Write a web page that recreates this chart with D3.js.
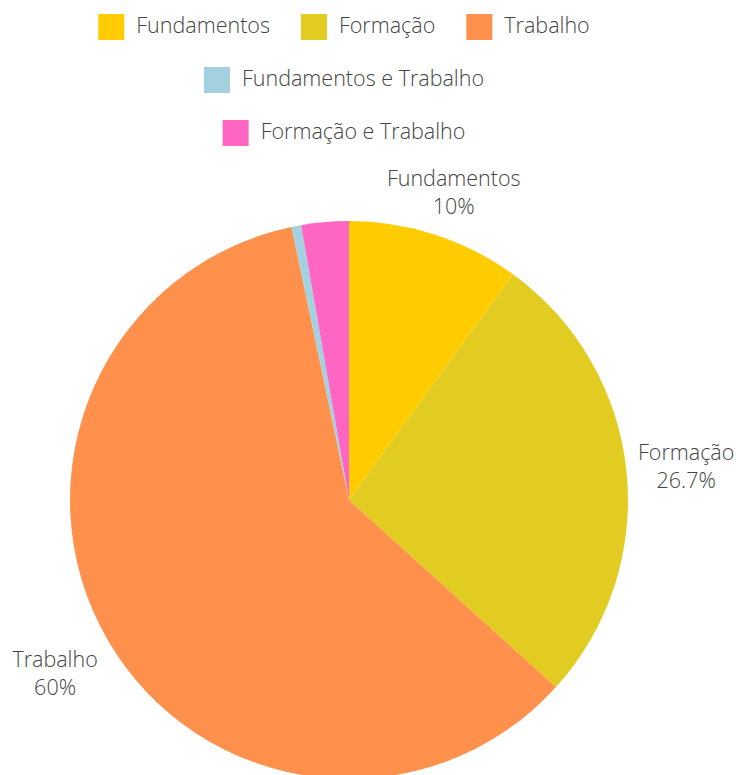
<!DOCTYPE html>
<html>
<head>
<meta charset="utf-8">
<script src="https://cdn.jsdelivr.net/npm/d3@7"></script>
<style>
  body { margin: 0; background: #fff; }
  text { font-family: "Open Sans", sans-serif; font-weight: 300; fill: #444; }
</style>
</head>
<body>
<script>
const w = 738;
const h = 775;

// chart data
const categories = ["Fundamentos", "Formação", "Trabalho", "Fundamentos e Trabalho", "Formação e Trabalho"];
const values = [10, 26.7, 60, 0.55, 2.75];
const labels = ["10%", "26.7%", "60%", "", ""];
const colors = ["#ffcc00", "#e3cc21", "#ff914d", "#a4d1e0", "#ff66c4"];

// legend rows (indices into categories)
const legendRows = [[0, 1, 2], [3], [4]];

const cx = 349, cy = 500, radius = 279;
const fontSize = "21.5px";

const svg = d3.select("body").append("svg")
  .attr("width", w)
  .attr("height", h);

const color = d3.scaleOrdinal().domain(categories).range(colors);

const pie = d3.pie().sort(null).value(d => d.value);
const data = categories.map((c, i) => ({ name: c, value: values[i], label: labels[i] }));
const arcs = pie(data);

const arc = d3.arc().innerRadius(0).outerRadius(radius);

const g = svg.append("g").attr("transform", "translate(" + cx + "," + cy + ")");

g.selectAll("path")
  .data(arcs)
  .enter()
  .append("path")
  .attr("d", arc)
  .attr("fill", d => color(d.data.name));

// outside labels, only for the slices that carry a percentage
const labelR = 324;
const lab = g.selectAll("g.label")
  .data(arcs.filter(d => d.data.label !== ""))
  .enter()
  .append("g")
  .attr("class", "label")
  .attr("transform", function(d) {
    const a = (d.startAngle + d.endAngle) / 2;
    const x = Math.sin(a) * labelR + Math.sin(a) * 15;
    let y = -Math.cos(a) * labelR;
    if (y > 0) y += 12;
    return "translate(" + x + "," + y + ")";
  });

lab.append("text")
  .attr("text-anchor", "middle")
  .attr("y", -6)
  .style("font-size", fontSize)
  .text(d => d.data.name);

lab.append("text")
  .attr("text-anchor", "middle")
  .attr("y", 22)
  .style("font-size", fontSize)
  .text(d => d.data.label);

// legend
const rowY = [27, 80, 133];
const sw = 26, gap = 12, itemGap = 31;

legendRows.forEach(function(row, r) {
  const rowG = svg.append("g");
  let x = 0;
  row.forEach(function(i) {
    const item = rowG.append("g").attr("transform", "translate(" + x + ",0)");
    item.append("rect")
      .attr("x", 0)
      .attr("y", -sw / 2)
      .attr("width", sw)
      .attr("height", sw)
      .attr("fill", color(categories[i]));
    const t = item.append("text")
      .attr("x", sw + gap)
      .attr("dy", "0.3em")
      .style("font-size", fontSize)
      .text(categories[i]);
    x += sw + gap + t.node().getComputedTextLength() + itemGap;
  });
  const total = x - itemGap;
  rowG.attr("transform", "translate(" + (344 - total / 2) + "," + rowY[r] + ")");
});
</script>
</body>
</html>
